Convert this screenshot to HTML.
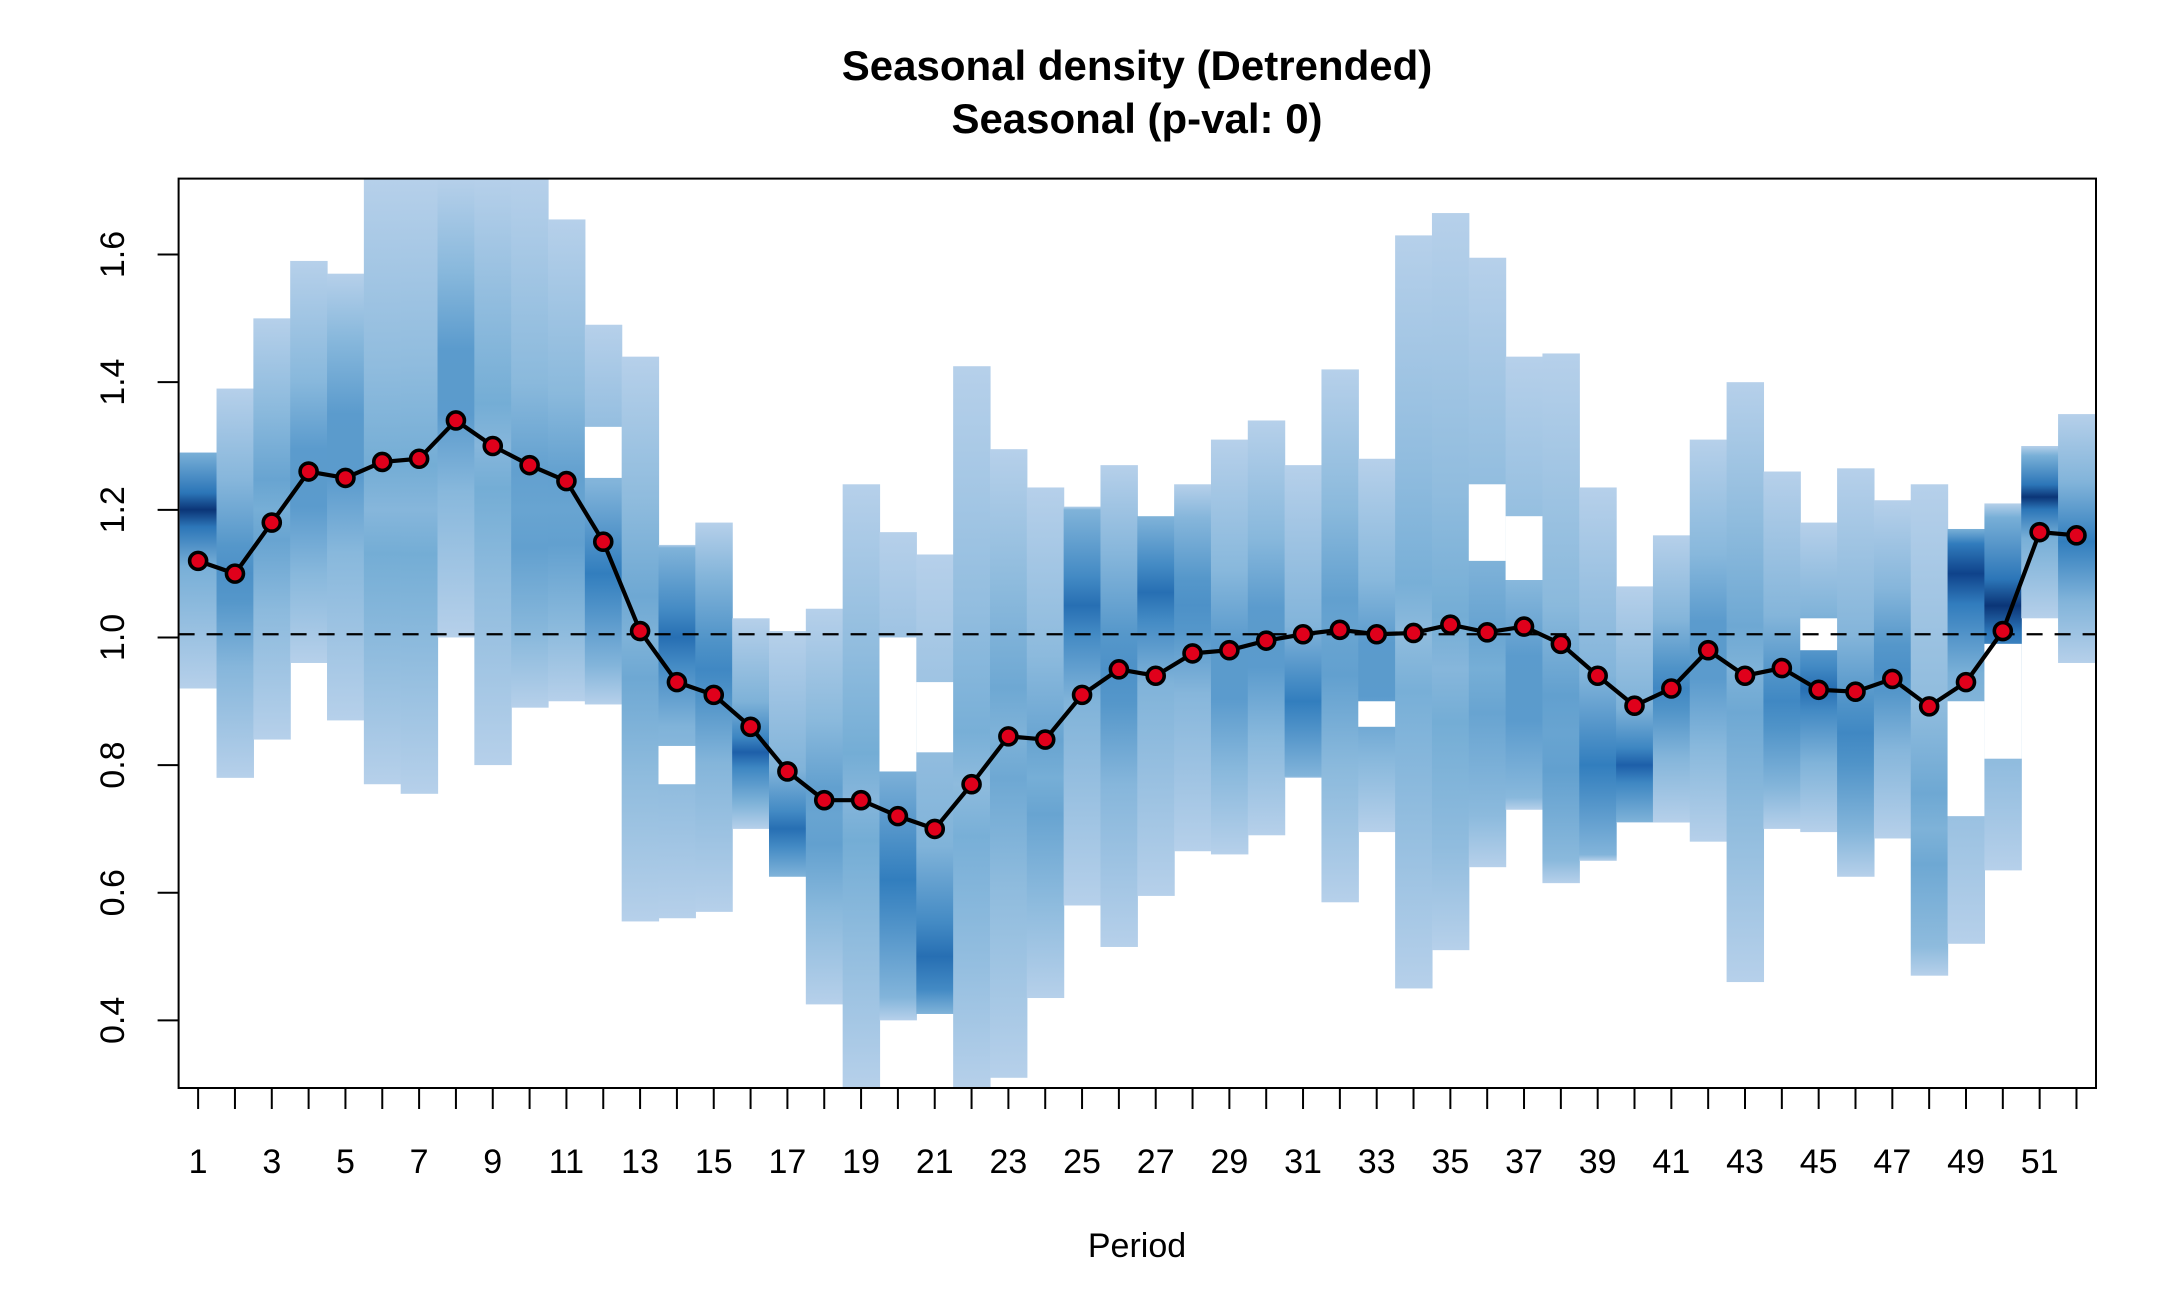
<!DOCTYPE html>
<html><head><meta charset="utf-8"><style>
html,body{margin:0;padding:0;background:#fff;}
svg text{font-family:"Liberation Sans",Arial,sans-serif;fill:#000;}
</style></head><body>
<svg id="chart" width="2160" height="1296" viewBox="0 0 2160 1296" xmlns="http://www.w3.org/2000/svg">
<defs id="defs"></defs>
<text x="1137" y="80" text-anchor="middle" font-size="42" font-weight="bold">Seasonal density (Detrended)</text>
<text x="1137" y="133" text-anchor="middle" font-size="42" font-weight="bold">Seasonal (p-val: 0)</text>
<g id="cols"></g>
<g id="axes"></g>
<text x="1137" y="1257" text-anchor="middle" font-size="34">Period</text>
</svg>
<script>
const periods = [1,2,3,4,5,6,7,8,9,10,11,12,13,14,15,16,17,18,19,20,21,22,23,24,25,26,27,28,29,30,31,32,33,34,35,36,37,38,39,40,41,42,43,44,45,46,47,48,49,50,51,52];
const seasonal = [1.12,1.10,1.18,1.26,1.25,1.275,1.28,1.34,1.30,1.27,1.245,1.15,1.01,0.93,0.91,0.86,0.79,0.745,0.745,0.72,0.70,0.77,0.845,0.84,0.91,0.95,0.94,0.975,0.98,0.995,1.005,1.012,1.005,1.007,1.02,1.008,1.017,0.99,0.94,0.893,0.92,0.98,0.94,0.952,0.918,0.915,0.935,0.892,0.93,1.01,1.165,1.16];
const densLo = [0.92,0.78,0.84,0.96,0.87,0.77,0.755,1.0,0.80,0.89,0.90,0.895,0.555,0.56,0.57,0.70,0.625,0.425,0.294,0.40,0.41,0.294,0.31,0.435,0.58,0.515,0.595,0.665,0.66,0.69,0.78,0.585,0.695,0.45,0.51,0.64,0.73,0.615,0.65,0.71,0.71,0.68,0.46,0.70,0.695,0.625,0.685,0.47,0.52,0.635,1.03,0.96];
const densHi = [1.29,1.39,1.50,1.59,1.57,1.72,1.72,1.72,1.72,1.72,1.655,1.49,1.44,1.145,1.18,1.03,1.01,1.045,1.24,1.165,1.13,1.425,1.295,1.235,1.205,1.27,1.19,1.24,1.31,1.34,1.27,1.42,1.28,1.63,1.665,1.595,1.44,1.445,1.235,1.08,1.16,1.31,1.40,1.26,1.18,1.265,1.215,1.24,1.17,1.21,1.30,1.35];
const densMode = [1.2,1.1,1.2,1.25,1.3,1.2,1.2,1.4,1.3,1.2,1.2,1.1,1.0,1.0,0.95,0.82,0.70,0.72,0.75,0.62,0.50,0.77,0.85,0.78,1.05,0.95,1.07,1.05,0.95,1.0,0.90,1.0,0.95,1.0,0.95,0.95,0.92,0.85,0.80,0.80,0.92,0.98,0.95,0.90,0.92,0.85,0.95,0.70,1.10,1.05,1.22,1.15];
const densPeak = [0.95,0.6,0.45,0.55,0.55,0.35,0.35,0.55,0.35,0.5,0.5,0.7,0.4,0.75,0.65,0.8,0.75,0.5,0.35,0.7,0.75,0.3,0.4,0.45,0.75,0.6,0.75,0.6,0.55,0.55,0.7,0.5,0.55,0.3,0.35,0.45,0.55,0.5,0.7,0.8,0.65,0.55,0.4,0.65,0.75,0.65,0.6,0.4,0.9,0.95,0.95,0.7];
const gapLo = [null,null,null,null,null,null,null,null,null,null,null,1.25,null,0.77,null,null,null,null,null,0.79,0.82,null,null,null,null,null,null,null,null,null,null,null,0.86,null,null,1.12,1.09,null,null,null,null,null,null,null,0.98,null,null,null,0.72,0.81,null,null];
const gapHi = [null,null,null,null,null,null,null,null,null,null,null,1.33,null,0.83,null,null,null,null,null,1.0,0.93,null,null,null,null,null,null,null,null,null,null,null,0.90,null,null,1.24,1.19,null,null,null,null,null,null,null,1.03,null,null,null,0.90,0.99,null,null];
const yTicks = [0.4,0.6,0.8,1.0,1.2,1.4,1.6];
const yTickLabels = ["0.4","0.6","0.8","1.0","1.2","1.4","1.6"];
const refLine = 1.005;

const L=178.6,R=2096,T=178.6,B=1088;
const xMin=0.47,xMax=52.53,yMin=0.294,yMax=1.719;
const sx=v=>L+(v-xMin)/(xMax-xMin)*(R-L);
const sy=v=>B-(v-yMin)/(yMax-yMin)*(B-T);
const NS="http://www.w3.org/2000/svg";
const mk=(t,a,p)=>{const e=document.createElementNS(NS,t);for(const k in a)e.setAttribute(k,a[k]);p.appendChild(e);return e;};
function col(t){
  const stops=[[0,[190,212,236]],[0.45,[118,174,214]],[0.7,[50,126,190]],[0.85,[18,80,158]],[1,[8,40,100]]];
  for(let i=1;i<stops.length;i++){if(t<=stops[i][0]){const a=stops[i-1],b=stops[i];const f=(t-a[0])/(b[0]-a[0]);return 'rgb('+a[1].map((c,j)=>Math.round(c+(b[1][j]-c)*f)).join(',')+')';}}
  return 'rgb(8,40,100)';
}
const defs=document.getElementById('defs'),cols=document.getElementById('cols'),axes=document.getElementById('axes'),svg=document.getElementById('chart');
const clip=mk('clipPath',{id:'pc'},defs);mk('rect',{x:L,y:T,width:R-L,height:B-T},clip);
cols.setAttribute('clip-path','url(#pc)');
const w=sx(2)-sx(1);
periods.forEach((p,i)=>{
  const hi=Math.min(densHi[i],yMax),lo=Math.max(densLo[i],yMin);
  const g=mk('linearGradient',{id:'g'+i,x1:0,y1:0,x2:0,y2:1},defs);
  const y0=sy(hi),y1=sy(lo),ym=sy(Math.min(Math.max(densMode[i],lo),hi));
  const fm=(ym-y0)/(y1-y0||1);
  const pk=densPeak[i];
  const sp=0.12;
  [[0,0.05],[Math.max(0,fm-sp*2),0.2+pk*0.25],[Math.max(0,fm-sp*0.6),0.3+pk*0.45],[fm,pk],[Math.min(1,fm+sp*0.6),0.3+pk*0.45],[Math.min(1,fm+sp*2),0.2+pk*0.25],[1,0.05]].forEach(s=>mk('stop',{offset:s[0],'stop-color':col(s[1])},g));
  const r=mk('rect',{x:sx(p)-w/2,y:y0,width:w+0.6,height:y1-y0,fill:'url(#g'+i+')'},cols);
  
  
  if(gapLo[i]!==null){
    const gr=mk('rect',{x:sx(p)-w/2,y:sy(gapHi[i]),width:w+0.6,height:sy(gapLo[i])-sy(gapHi[i]),fill:'#fff'},cols);
    
    
  }
});
const dl=mk('line',{x1:L,x2:R,y1:sy(refLine),y2:sy(refLine),stroke:'#000','stroke-width':2.2,'stroke-dasharray':'16 12'},svg);


const pl=mk('polyline',{points:periods.map((p,i)=>sx(p)+','+sy(seasonal[i])).join(' '),fill:'none',stroke:'#000','stroke-width':4.2,'stroke-linejoin':'round'},svg);


periods.forEach((p,i)=>{
  const c=mk('circle',{cx:sx(p),cy:sy(seasonal[i]),r:8.5,fill:'#e0001b',stroke:'#000','stroke-width':3.6},svg);
  
  
});
const bx=mk('rect',{x:L,y:T,width:R-L,height:B-T,fill:'none',stroke:'#000','stroke-width':2},axes);


periods.forEach(p=>{
  const t=mk('line',{x1:sx(p),x2:sx(p),y1:B,y2:B+21,stroke:'#000','stroke-width':2},axes);
  
  
  if(p%2===1){
    const tx=mk('text',{x:sx(p),y:1173,'text-anchor':'middle','font-size':34},axes);
    tx.textContent=p;
    
    
  }
});
yTicks.forEach((v,i)=>{
  const t=mk('line',{x1:L-21,x2:L,y1:sy(v),y2:sy(v),stroke:'#000','stroke-width':2},axes);
  
  
  const tx=mk('text',{x:0,y:0,'text-anchor':'middle','font-size':34,transform:'translate(124,'+sy(v)+') rotate(-90)'},axes);
  tx.textContent=yTickLabels[i];
  
  
});
</script>
</body></html>
